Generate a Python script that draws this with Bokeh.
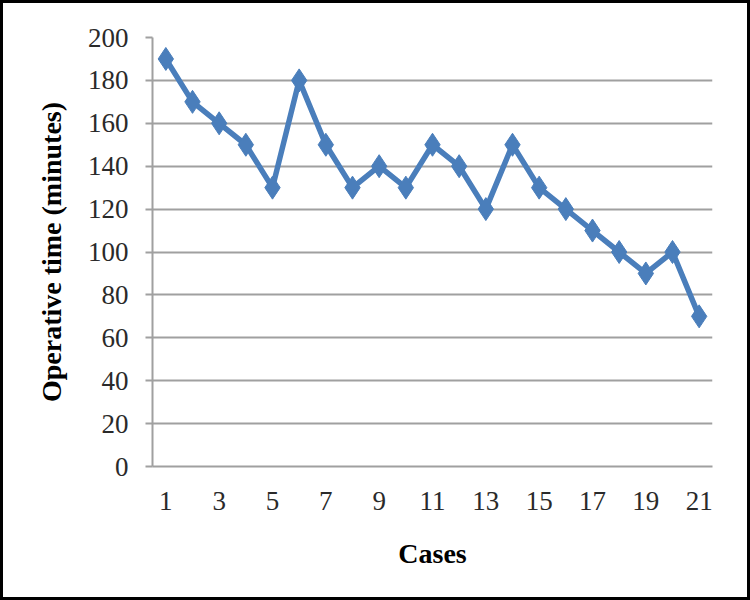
from bokeh.plotting import figure
from bokeh.models import FixedTicker, Range1d
from bokeh.embed import file_html
from bokeh.resources import INLINE

cases = list(range(1, 22))
operative_time = [190, 170, 160, 150, 130, 180, 150, 130, 140, 130, 150,
                  140, 120, 150, 130, 120, 110, 100, 90, 100, 70]
x_ticks = [1, 3, 5, 7, 9, 11, 13, 15, 17, 19, 21]
y_ticks = [0, 20, 40, 60, 80, 100, 120, 140, 160, 180, 200]

FONT = "Liberation Serif"
BLUE = "#4a7ebb"
GRID = "#a0a0a0"

p = figure(width=750, height=600, output_backend="svg", toolbar_location=None,
           x_range=Range1d(0.5, 21.5), y_range=Range1d(0, 200),
           min_border_left=152, min_border_right=38,
           min_border_top=37, min_border_bottom=134)
p.outline_line_color = None
p.background_fill_color = "white"
p.border_fill_color = None
p.styles = {"background-color": "white",
            "box-shadow": "inset 0 0 0 3px black"}

p.line(cases, operative_time, line_color=BLUE, line_width=5.5)
p.scatter(cases, operative_time, marker="diamond", size=23,
          fill_color=BLUE, line_color=BLUE)

p.xaxis.ticker = FixedTicker(ticks=x_ticks)
p.yaxis.ticker = FixedTicker(ticks=y_ticks)
p.xgrid.visible = False
p.ygrid.grid_line_color = GRID
p.ygrid.grid_line_width = 2

for ax in (p.xaxis[0], p.yaxis[0]):
    ax.axis_line_color = GRID
    ax.axis_line_width = 2
    ax.major_tick_line_color = GRID
    ax.major_tick_line_width = 2
    ax.minor_tick_line_color = None
    ax.major_label_text_font = FONT
    ax.major_label_text_font_size = "27px"
    ax.major_label_text_color = "#2a2a2a"
    ax.axis_label_text_font = FONT
    ax.axis_label_text_font_size = "28px"
    ax.axis_label_text_font_style = "bold"
    ax.axis_label_text_color = "black"

p.xaxis.major_tick_out = 0
p.xaxis.major_tick_in = 0
p.yaxis.major_tick_out = 7
p.yaxis.major_tick_in = 0
p.xaxis.major_label_standoff = 25
p.yaxis.major_label_standoff = 17
p.xaxis.axis_label = "Cases"
p.yaxis.axis_label = "Operative time (minutes)"
p.xaxis.axis_label_standoff = 25
p.yaxis.axis_label_standoff = 18

open("out.html", "w").write(file_html(p, INLINE))
